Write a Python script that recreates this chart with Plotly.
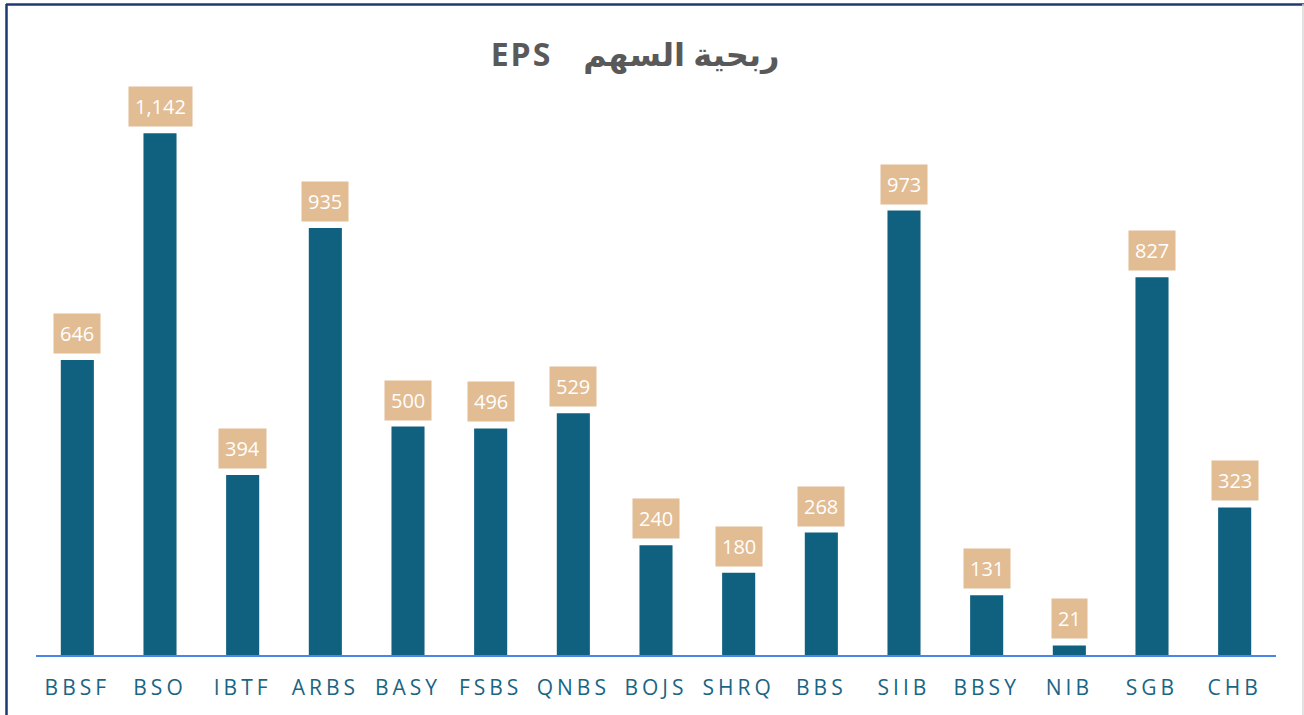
import plotly.graph_objects as go

categories = ["BBSF", "BSO", "IBTF", "ARBS", "BASY", "FSBS", "QNBS", "BOJS",
              "SHRQ", "BBS", "SIIB", "BBSY", "NIB", "SGB", "CHB"]
eps_values = [646, 1142, 394, 935, 500, 496, 529, 240, 180, 268, 973, 131, 21, 827, 323]
title_text = "EPS   ربحية السهم"

W, H = 1304, 715
ML, MR, MT, MB = 36, 28, 84, 60
PW, PH = W - ML - MR, H - MT - MB

BAR = "#10607F"
BOX = "#E2BC93"

fig = go.Figure(go.Bar(
    x=categories, y=eps_values, marker=dict(color=BAR, line=dict(width=0)),
    hoverinfo="x+y",
))

for c, v in zip(categories, eps_values):
    fig.add_annotation(
        x=c, y=v, text=f"{v:,}", showarrow=False, yanchor="middle", yshift=26.5,
        font=dict(family="Open Sans, Liberation Sans, sans-serif", size=20, color="white"),
        bgcolor=BOX, borderpad=6,
    )

def px_x(p):
    return (p - ML) / PW

def px_y(p):
    return (H - MB - p) / PH

fig.add_shape(type="line", xref="paper", yref="paper",
              x0=px_x(6), x1=px_x(1304), y0=px_y(4.5), y1=px_y(4.5),
              line=dict(color="#1F3A6E", width=2.5))
fig.add_shape(type="line", xref="paper", yref="paper",
              x0=px_x(6.5), x1=px_x(6.5), y0=px_y(4), y1=px_y(715),
              line=dict(color="#1F3A6E", width=2.5))
fig.add_shape(type="line", xref="paper", yref="paper",
              x0=px_x(1303), x1=px_x(1303), y0=px_y(4), y1=px_y(715),
              line=dict(color="#D9D9D9", width=1.5))

fig.update_layout(
    width=W, height=H,
    margin=dict(l=ML, r=MR, t=MT, b=MB),
    paper_bgcolor="white", plot_bgcolor="white",
    bargap=0.6,
    showlegend=False,
    title=dict(text=title_text, x=635 / W, xanchor="center", y=1 - 55 / H, yanchor="middle",
               font=dict(family="Open Sans, DejaVu Sans, sans-serif", size=32, color="#595959",
                         weight="bold")),
    xaxis=dict(showline=True, linecolor="#4A86E8", linewidth=1.5, ticks="",
               ticklabelstandoff=13,
               tickfont=dict(family="Open Sans, Liberation Sans, sans-serif", size=21, color="#1A6584"),
               showgrid=False, zeroline=False),
    yaxis=dict(range=[0, 1250], visible=False, showgrid=False, zeroline=False),
)

post = """
document.body.style.margin='0';
document.body.style.overflow='hidden';
document.querySelectorAll('.xtick text').forEach(function(t){t.style.letterSpacing='4px';});
document.querySelectorAll('.gtitle').forEach(function(t){t.style.letterSpacing='2px';});
"""
fig.write_html("out.html", config={"displayModeBar": False}, post_script=post)
